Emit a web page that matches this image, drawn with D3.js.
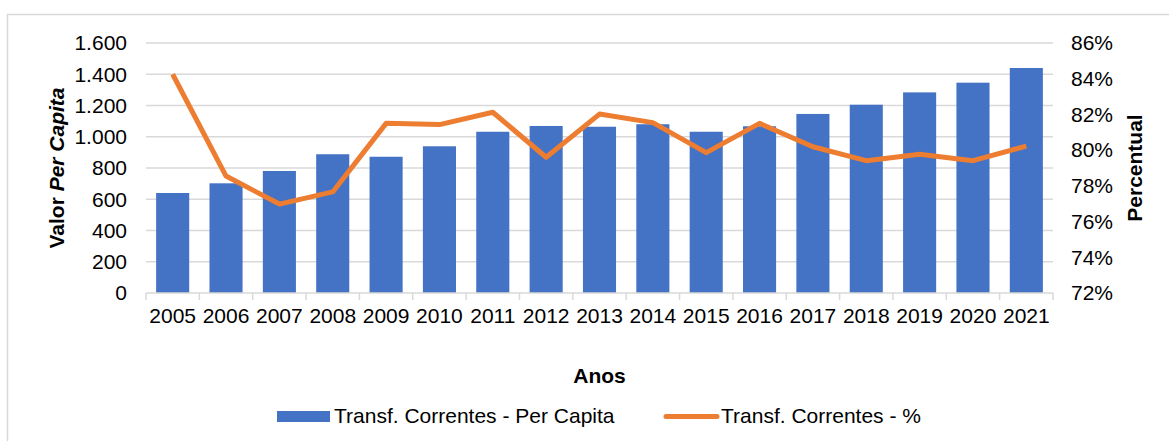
<!DOCTYPE html>
<html>
<head>
<meta charset="utf-8">
<script src="https://cdn.jsdelivr.net/npm/d3@7"></script>
<style>
  body { margin: 0; background: #fff; }
  text { font-family: "Liberation Sans", Arial, sans-serif; fill: #000; }
</style>
</head>
<body>
<div id="chart"></div>
<script>
// data
var anos = ["2005", "2006", "2007", "2008", "2009", "2010", "2011", "2012", "2013",
            "2014", "2015", "2016", "2017", "2018", "2019", "2020", "2021"];
var perCapita = [640, 702, 781, 888, 872, 939, 1032, 1069, 1064,
                 1080, 1032, 1067, 1146, 1205, 1284, 1346, 1440];
var percentual = [84.25, 78.55, 76.98, 77.66, 81.5, 81.43, 82.12, 79.6, 82.02,
                  81.54, 79.86, 81.5, 80.19, 79.41, 79.77, 79.41, 80.23];
var leftTicks = [0, 200, 400, 600, 800, 1000, 1200, 1400, 1600];
var rightTicks = [72, 74, 76, 78, 80, 82, 84, 86];

var w = 1169, h = 441;
var svg = d3.select("#chart").append("svg")
  .attr("width", w)
  .attr("height", h);

// outer chart border
svg.append("rect")
  .attr("x", 7.5).attr("y", 14.5)
  .attr("width", w).attr("height", h)
  .attr("fill", "none")
  .attr("stroke", "#d9d9d9")
  .attr("stroke-width", 1.5);

// plot area (note: "top" is reserved on window, so prefixed names)
var pLeft = 146, pRight = 1053, pTop = 43, pBottom = 293;

var x = d3.scaleBand()
  .domain(anos)
  .range([pLeft, pRight])
  .paddingInner(0.38)
  .paddingOuter(0.19);

var y = d3.scaleLinear().domain([0, 1600]).range([pBottom, pTop]);
var y2 = d3.scaleLinear().domain([72, 86]).range([pBottom, pTop]);

// gridlines
svg.append("g")
  .selectAll("line")
  .data(leftTicks.slice(1))
  .enter().append("line")
  .attr("x1", pLeft).attr("x2", pRight)
  .attr("y1", function(d) { return y(d); })
  .attr("y2", function(d) { return y(d); })
  .attr("stroke", "#d9d9d9")
  .attr("stroke-width", 1.5);

// bars
svg.append("g")
  .selectAll("rect")
  .data(perCapita)
  .enter().append("rect")
  .attr("x", function(d, i) { return x(anos[i]); })
  .attr("y", function(d) { return y(d); })
  .attr("width", x.bandwidth())
  .attr("height", function(d) { return pBottom - y(d); })
  .attr("fill", "#4472c4");

// x axis: line + ticks at band boundaries
var xg = svg.append("g");
xg.append("line")
  .attr("x1", pLeft).attr("x2", pRight)
  .attr("y1", pBottom).attr("y2", pBottom)
  .attr("stroke", "#d9d9d9").attr("stroke-width", 1.5);
var bounds = d3.range(anos.length + 1).map(function(i) { return pLeft + i * (pRight - pLeft) / anos.length; });
xg.selectAll("line.tick")
  .data(bounds)
  .enter().append("line")
  .attr("class", "tick")
  .attr("x1", function(d) { return d; }).attr("x2", function(d) { return d; })
  .attr("y1", pBottom).attr("y2", pBottom + 7)
  .attr("stroke", "#d9d9d9").attr("stroke-width", 1.5);
xg.selectAll("text")
  .data(anos)
  .enter().append("text")
  .attr("x", function(d) { return x(d) + x.bandwidth() / 2; })
  .attr("y", 323)
  .attr("text-anchor", "middle")
  .attr("font-size", 21)
  .text(function(d) { return d; });

// left axis labels
var fmt = d3.formatLocale({ decimal: ",", thousands: ".", grouping: [3], currency: ["", ""] }).format(",");
svg.append("g")
  .selectAll("text")
  .data(leftTicks)
  .enter().append("text")
  .attr("x", 127)
  .attr("y", function(d) { return y(d); })
  .attr("dy", "0.35em")
  .attr("text-anchor", "end")
  .attr("font-size", 21)
  .text(function(d) { return fmt(d); });

// right axis labels
svg.append("g")
  .selectAll("text")
  .data(rightTicks)
  .enter().append("text")
  .attr("x", 1071)
  .attr("y", function(d) { return y2(d); })
  .attr("dy", "0.35em")
  .attr("text-anchor", "start")
  .attr("font-size", 21)
  .text(function(d) { return d + "%"; });

// line series
var line = d3.line()
  .x(function(d, i) { return x(anos[i]) + x.bandwidth() / 2; })
  .y(function(d) { return y2(d); });
svg.append("path")
  .datum(percentual)
  .attr("d", line)
  .attr("fill", "none")
  .attr("stroke", "#ed7d31")
  .attr("stroke-width", 5)
  .attr("stroke-linejoin", "round");

// axis titles
var cy = (pTop + pBottom) / 2;
var yt = svg.append("text")
  .attr("transform", "translate(64," + cy + ") rotate(-90)")
  .attr("text-anchor", "middle")
  .attr("font-size", 21)
  .attr("font-weight", "bold");
yt.append("tspan").text("Valor ");
yt.append("tspan").attr("font-style", "italic").text("Per Capita");

svg.append("text")
  .attr("transform", "translate(1142," + cy + ") rotate(-90)")
  .attr("text-anchor", "middle")
  .attr("font-size", 21)
  .attr("font-weight", "bold")
  .text("Percentual");

svg.append("text")
  .attr("x", (pLeft + pRight) / 2)
  .attr("y", 383)
  .attr("text-anchor", "middle")
  .attr("font-size", 21)
  .attr("font-weight", "bold")
  .text("Anos");

// legend
var lg = svg.append("g");
lg.append("rect")
  .attr("x", 277).attr("y", 411)
  .attr("width", 53).attr("height", 11)
  .attr("fill", "#4472c4");
lg.append("text")
  .attr("x", 334).attr("y", 423)
  .attr("font-size", 21)
  .text("Transf. Correntes - Per Capita");
lg.append("line")
  .attr("x1", 666).attr("x2", 717)
  .attr("y1", 416.5).attr("y2", 416.5)
  .attr("stroke", "#ed7d31")
  .attr("stroke-width", 5)
  .attr("stroke-linecap", "round");
lg.append("text")
  .attr("x", 721).attr("y", 423)
  .attr("font-size", 21)
  .text("Transf. Correntes - %");
</script>
</body>
</html>
